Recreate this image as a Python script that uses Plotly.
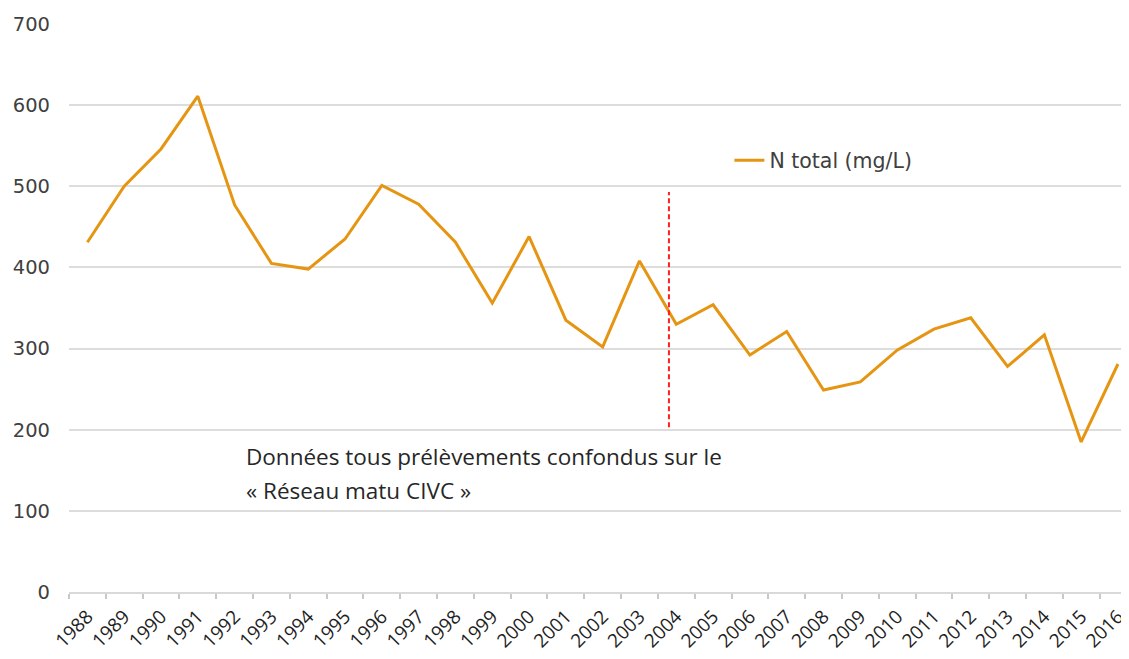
import plotly.graph_objects as go

years = [str(y) for y in range(1988, 2017)]
n_total = [431, 500, 546, 611, 477, 405, 398, 435, 501, 478, 431, 356, 438, 335, 302,
           408, 330, 354, 292, 321, 249, 259, 298, 324, 338, 278, 317, 185, 281]
series_name = "N total (mg/L)"
y_ticks = [0, 100, 200, 300, 400, 500, 600, 700]
note_lines = ["Données tous prélèvements confondus sur le", "« Réseau matu CIVC »"]
divider_pos = 15.8  # between 2003 and 2004, category units
divider_y = [203, 493]

fig = go.Figure()
fig.add_trace(go.Scatter(
    x=years, y=n_total, mode="lines", name=series_name,
    line=dict(color="#E69512", width=3),
))

fig.add_shape(type="line", xref="x", yref="y", x0=divider_pos, x1=divider_pos,
              y0=divider_y[0], y1=divider_y[1],
              line=dict(color="#FF2020", width=2, dash="5px,3px"))

for txt, yy in zip(note_lines, [0.2385, 0.1786]):
    fig.add_annotation(text=txt, xref="paper", yref="paper", x=0.165, y=yy,
                       xanchor="left", yanchor="middle", showarrow=False,
                       font=dict(family="Open Sans", size=22.5, color="#262626"))

# The page body has an 8px margin; size/margins compensate for it.
fig.update_layout(
    width=1121, height=651,
    margin=dict(l=61, r=0, t=16, b=67, autoexpand=False),
    paper_bgcolor="white", plot_bgcolor="white",
    showlegend=True,
    legend=dict(x=0.623, y=0.76, xanchor="left", yanchor="middle",
                bgcolor="rgba(0,0,0,0)",
                font=dict(family="DejaVu Sans", size=20.5, color="#404040")),
    xaxis=dict(
        type="category", range=[-0.5, 28.3], tickson="boundaries",
        tickangle=-45, showgrid=False, showline=True, linecolor="#D9D9D9", linewidth=2,
        ticks="outside", ticklen=5, tickcolor="#C8C8C8", tickwidth=1.5,
        ticklabelstandoff=4,
        tickfont=dict(family="Open Sans", size=19, color="#1E1E1E"),
        zeroline=False,
    ),
    yaxis=dict(
        range=[0, 700], tickmode="array", tickvals=y_ticks, showgrid=True,
        gridcolor="#DDDDDD", gridwidth=2, zeroline=False, showline=False,
        ticks="", ticklabelstandoff=18,
        tickfont=dict(family="DejaVu Sans", size=19.5, color="#404040"),
    ),
)

fig.write_html("out.html")
